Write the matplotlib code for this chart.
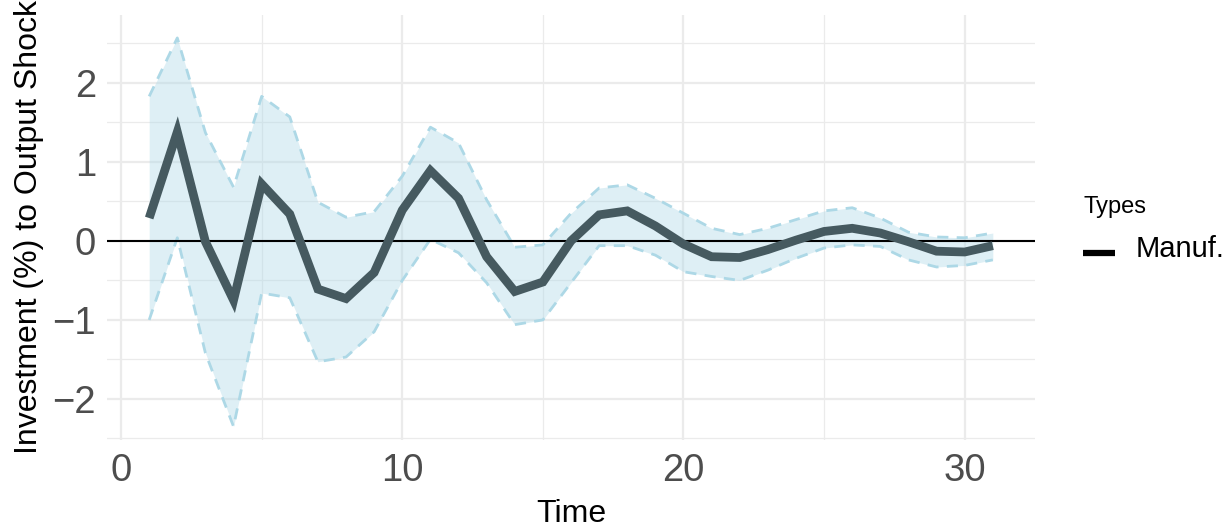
import matplotlib
matplotlib.use("Agg")
import matplotlib.pyplot as plt
from matplotlib.lines import Line2D

plt.rcParams['font.family'] = ['Liberation Sans', 'DejaVu Sans']

time = list(range(1, 32))
irf = [0.29, 1.38, -0.01, -0.75, 0.72, 0.34, -0.61, -0.73, -0.40, 0.39,
       0.89, 0.54, -0.20, -0.64, -0.52, 0.00, 0.33, 0.38, 0.19, -0.04,
       -0.20, -0.21, -0.11, 0.01, 0.12, 0.16, 0.10, -0.01, -0.13, -0.14, -0.06]
upper = [1.83, 2.57, 1.37, 0.68, 1.83, 1.57, 0.49, 0.30, 0.37, 0.82,
         1.44, 1.24, 0.52, -0.08, -0.05, 0.35, 0.67, 0.71, 0.54, 0.35,
         0.16, 0.08, 0.16, 0.27, 0.38, 0.42, 0.29, 0.11, 0.05, 0.04, 0.10]
lower = [-1.00, 0.04, -1.42, -2.35, -0.66, -0.72, -1.53, -1.47, -1.15, -0.50,
         0.02, -0.15, -0.53, -1.06, -1.00, -0.53, -0.06, -0.06, -0.18, -0.39,
         -0.45, -0.50, -0.37, -0.22, -0.09, -0.05, -0.07, -0.24, -0.33, -0.31, -0.24]
series_name = "Manuf."
legend_title = "Types"
x_ticks = [0, 10, 20, 30]
y_ticks = [-2, -1, 0, 1, 2]
y_tick_labels = ['\u22122', '\u22121', '0', '1', '2']

W, H = 1231, 529
fig = plt.figure(figsize=(W / 100, H / 100), dpi=100)
ax = fig.add_axes([107 / W, 1 - 440 / H, (1035 - 107) / W, (440 - 15) / H])

grid_c = '#EBEBEB'
ax.set_xlim(-0.5, 32.5)
ax.set_ylim(-2.52, 2.86)
ax.set_xticks(x_ticks)
ax.set_yticks(y_ticks)
ax.set_yticklabels(y_tick_labels)
ax.set_xticks([5, 15, 25], minor=True)
ax.set_yticks([-2.5, -1.5, -0.5, 0.5, 1.5, 2.5], minor=True)
ax.grid(True, which='major', color=grid_c, lw=1.6)
ax.grid(True, which='minor', color=grid_c, lw=0.9)
ax.set_axisbelow(True)
for s in ax.spines.values():
    s.set_visible(False)
ax.tick_params(which='both', length=0, labelsize=27.5, labelcolor='#4D4D4D')
ax.tick_params(axis='x', pad=9.5)
ax.tick_params(axis='y', pad=8)

ax.fill_between(time, lower, upper, color='#ADD8E6', alpha=0.4, lw=0)
ax.plot(time, upper, color='#ADD8E6', lw=2.0, ls=(0, (4, 3)))
ax.plot(time, lower, color='#ADD8E6', lw=2.0, ls=(0, (4, 3)))
ax.axhline(0, color='black', lw=1.5)
ax.plot(time, irf, color='#465A60', lw=6.3, solid_joinstyle='miter', solid_capstyle='butt')

ax.set_xlabel('Time', fontsize=23, va='center')
ax.xaxis.set_label_coords(0.5, -(514 - 440) / 425)
ax.set_ylabel('Investment (%) to Output Shock', fontsize=23, va='center')
ax.yaxis.set_label_coords(-(107 - 29) / 928, 0.5)

# legend (drawn manually for exact placement)
fig.text(1083 / W, 1 - 213 / H, legend_title, fontsize=17, ha='left', va='baseline')
fig.add_artist(Line2D([1083 / W, 1115 / W], [1 - 253 / H, 1 - 253 / H],
                      transform=fig.transFigure, color='black', lw=4.5,
                      solid_capstyle='butt'))
fig.text(1136 / W, 1 - 257 / H, series_name, fontsize=21, ha='left', va='baseline')

fig.savefig('out.png', dpi=100)
